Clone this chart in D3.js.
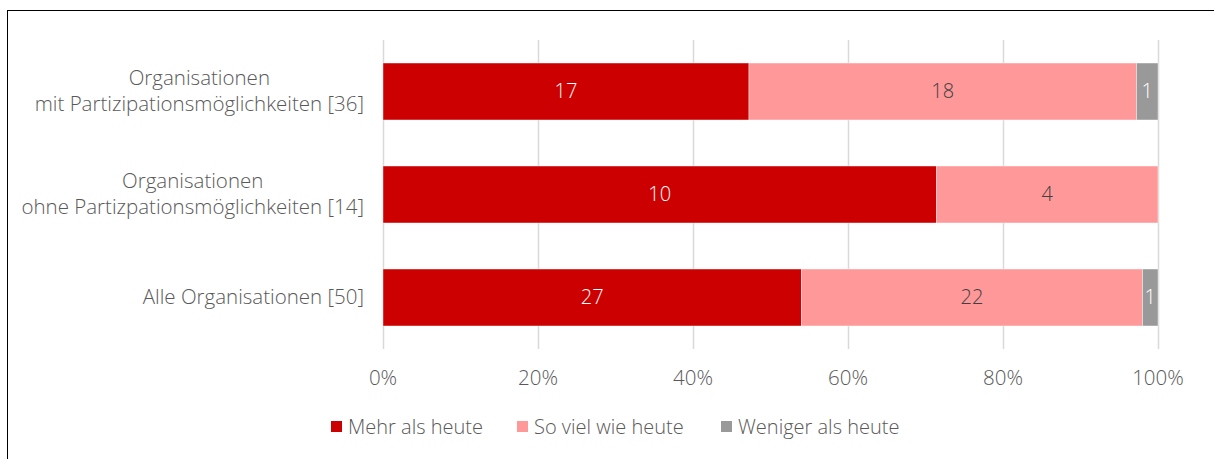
<!DOCTYPE html>
<html>
<head>
<meta charset="utf-8">
<script src="https://cdn.jsdelivr.net/npm/d3@7"></script>
<style>
  body { margin: 0; background: #fff; }
  svg { font-family: "Open Sans", sans-serif; font-weight: 300; }
</style>
</head>
<body>
<svg id="chart" width="1214" height="459"></svg>
<script>
// Gruppen (zeilenweise Beschriftung) und Werte pro Antwortkategorie
var categories = [
  ["Organisationen", "mit Partizipationsmöglichkeiten [36]"],
  ["Organisationen", "ohne Partizpationsmöglichkeiten [14]"],
  ["Alle Organisationen [50]"]
];
var seriesNames = ["Mehr als heute", "So viel wie heute", "Weniger als heute"];
var mehr = [17, 10, 27];
var soViel = [18, 4, 22];
var weniger = [1, 0, 1];
var tickValues = [0, 0.2, 0.4, 0.6, 0.8, 1];

var colors = ["#CC0000", "#FF9999", "#999999"];
var labelColors = ["#ffffff", "#404040", "#ffffff"];
var textColor = "#595959";

var svg = d3.select("#chart");

// Rahmen
svg.append("rect")
  .attr("x", 7.5).attr("y", 10.5)
  .attr("width", 1230).attr("height", 470)
  .attr("fill", "none").attr("stroke", "#000").attr("stroke-width", 1);

var rows = categories.map(function(c, i){
  var vals = [mehr[i], soViel[i], weniger[i]];
  var total = d3.sum(vals);
  var x0 = 0;
  return {
    label: c,
    segs: vals.map(function(v, k){
      var s = {k: k, v: v, x0: x0 / total, x1: (x0 + v) / total};
      x0 += v;
      return s;
    })
  };
});

var x = d3.scaleLinear().domain([0, 1]).range([383, 1158]);
var y = d3.scaleBand().domain(d3.range(rows.length)).range([40, 349]).paddingInner(0.447).paddingOuter(0.2235);

// Gitternetz
svg.append("g")
  .selectAll("line")
  .data(tickValues)
  .join("line")
  .attr("x1", d => Math.round(x(d)) + 0.5)
  .attr("x2", d => Math.round(x(d)) + 0.5)
  .attr("y1", 40).attr("y2", 349)
  .attr("stroke", "#d9d9d9").attr("stroke-width", 1.5);

// Balken
var bar = svg.append("g")
  .selectAll("g")
  .data(rows)
  .join("g")
  .attr("transform", (d, i) => `translate(0,${y(i)})`);

bar.selectAll("rect")
  .data(d => d.segs.filter(s => s.v > 0))
  .join("rect")
  .attr("x", s => x(s.x0))
  .attr("width", s => x(s.x1) - x(s.x0))
  .attr("height", y.bandwidth())
  .attr("fill", s => colors[s.k])
  .attr("stroke", "#fff").attr("stroke-opacity", 0.5).attr("stroke-width", 0.8);

bar.selectAll("text")
  .data(d => d.segs.filter(s => s.v > 0))
  .join("text")
  .attr("x", s => (x(s.x0) + x(s.x1)) / 2)
  .attr("y", y.bandwidth() / 2)
  .attr("dy", "0.35em")
  .attr("text-anchor", "middle")
  .attr("fill", s => labelColors[s.k])
  .style("font-size", "20px")
  .text(s => s.v);

// Kategorienbeschriftung
var catG = svg.append("g")
  .selectAll("text")
  .data(rows)
  .join("text")
  .attr("fill", textColor)
  .style("font-size", "20.5px")
  .attr("text-anchor", "middle");

catG.each(function(d, i){
  var t = d3.select(this);
  var n = d.label.length;
  var cy = y(i) + y.bandwidth() / 2 - 1;
  d.label.forEach(function(line, j){
    t.append("tspan")
      .attr("y", cy + (j - (n - 1) / 2) * 26)
      .attr("dy", "0.35em")
      .text(line);
  });
  var w = d3.max(t.selectAll("tspan").nodes(), n => n.getComputedTextLength());
  t.selectAll("tspan").attr("x", 364 - w / 2);
});

// Achse
svg.append("g")
  .selectAll("text")
  .data(tickValues)
  .join("text")
  .attr("x", d => x(d))
  .attr("y", 378)
  .attr("dy", "0.35em")
  .attr("text-anchor", "middle")
  .attr("fill", textColor)
  .style("font-size", "20.5px")
  .text(d3.format(".0%"));

// Legende
var legendX = [331, 517, 721];
var leg = svg.append("g")
  .selectAll("g")
  .data(seriesNames)
  .join("g")
  .attr("transform", (d, i) => `translate(${legendX[i]},427)`);
leg.append("rect")
  .attr("x", 0).attr("y", -6)
  .attr("width", 11).attr("height", 11)
  .attr("fill", (d, i) => colors[i]);
leg.append("text")
  .attr("x", 17)
  .attr("dy", "0.35em")
  .attr("fill", textColor)
  .style("font-size", "20px")
  .text(d => d);
</script>
</body>
</html>
